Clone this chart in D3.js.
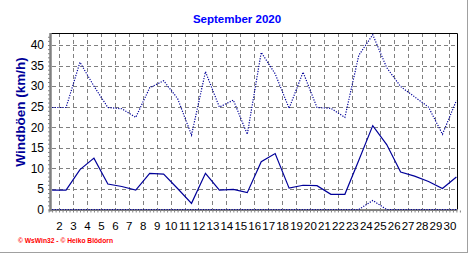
<!DOCTYPE html>
<html>
<head>
<meta charset="utf-8">
<script src="https://cdn.jsdelivr.net/npm/d3@7"></script>
<style>
  body { margin: 0; background: #fff; }
  svg { display: block; font-family: "Liberation Sans", Arial, sans-serif; }
</style>
</head>
<body>
<script>
// Days of September 2020
const days = [1, 2, 3, 4, 5, 6, 7, 8, 9, 10, 11, 12, 13, 14, 15,
  16, 17, 18, 19, 20, 21, 22, 23, 24, 25, 26, 27, 28, 29, 30];

// Mean wind (solid line), km/h
const windMean = [4.7, 4.7, 9.7, 12.5, 6.2, 5.6, 4.7, 8.8, 8.6, 5.1,
  1.5, 8.8, 4.7, 4.9, 4.1, 11.6, 13.6, 5.2, 5.9, 5.8,
  3.7, 3.7, 12.0, 20.4, 15.8, 9.1, 8.1, 6.8, 5.1, 7.9];

// Max gusts (dotted line), km/h
const windGust = [24.8, 24.8, 35.8, 30.0, 24.8, 24.5, 22.4, 29.6, 31.3, 27.0,
  18.1, 33.5, 24.9, 26.6, 18.3, 38.2, 33.0, 24.6, 33.4, 24.8,
  24.6, 22.4, 37.5, 42.5, 34.5, 29.9, 27.4, 24.9, 18.3, 26.5];

// Minimum (dotted line near zero), km/h
const windMin = [0, 0, 0, 0, 0, 0, 0, 0, 0, 0,
  0, 0, 0, 0, 0, 0, 0, 0, 0, 0,
  0, 0, 0, 2.2, 0, 0, 0, 0, 0, 0];

const yTicks = [0, 5, 10, 15, 20, 25, 30, 35, 40];
const xLabels = [2, 3, 4, 5, 6, 7, 8, 9, 10, 11, 12, 13, 14, 15, 16,
  17, 18, 19, 20, 21, 22, 23, 24, 25, 26, 27, 28, 29, 30];

const width = 472, height = 255;
const plot = { left: 51, right: 457, top: 33, bottom: 209.5 };
const lineColor = "#000099";

const svg = d3.select("body").append("svg")
  .attr("width", width)
  .attr("height", height);

// Scales
const x = d3.scaleLinear().domain([1, 30]).range([52.1, 456.4]);
const y = d3.scaleLinear().domain([0, 40]).range([209.5, 45]);

// Outer frame lines
svg.append("line")
  .attr("x1", 0).attr("x2", 468).attr("y1", 252.5).attr("y2", 252.5)
  .attr("stroke", "#a0a0a0");
svg.append("line")
  .attr("x1", 467.5).attr("x2", 467.5).attr("y1", 0).attr("y2", 253)
  .attr("stroke", "#a0a0a0");

// Title
svg.append("text")
  .attr("x", 237)
  .attr("y", 23)
  .attr("text-anchor", "middle")
  .style("font-size", "11.5px")
  .style("font-weight", "bold")
  .style("fill", "#0000ff")
  .text("September 2020");

// Y axis label
svg.append("text")
  .attr("transform", "translate(25,112) rotate(-90)")
  .attr("text-anchor", "middle")
  .style("font-size", "13.5px")
  .style("font-weight", "bold")
  .style("fill", "#000099")
  .text("Windböen (km/h)");

// Horizontal grid
svg.append("g")
  .selectAll("line")
  .data(yTicks.filter((d) => d > 0))
  .enter()
  .append("line")
  .attr("x1", plot.left + 1)
  .attr("x2", plot.right)
  .attr("y1", (d) => Math.round(y(d)) + 0.5)
  .attr("y2", (d) => Math.round(y(d)) + 0.5)
  .attr("stroke", "#808080")
  .attr("stroke-dasharray", "4,3");

// Vertical grid (day boundaries)
svg.append("g")
  .selectAll("line")
  .data(xLabels)
  .enter()
  .append("line")
  .attr("x1", (d) => Math.round(x(d - 0.5)) + 0.5)
  .attr("x2", (d) => Math.round(x(d - 0.5)) + 0.5)
  .attr("y1", plot.top)
  .attr("y2", plot.bottom)
  .attr("stroke", "#808080")
  .attr("stroke-dasharray", "4,3");

// Top and right border
svg.append("path")
  .attr("d", `M${plot.left},${plot.top + 0.5}H${plot.right + 0.5}V${plot.bottom}`)
  .attr("fill", "none")
  .attr("stroke", "#000");

// Left axis with minor ticks
const yAxis = d3.axisLeft(y)
  .tickValues(d3.range(0, 43, 1))
  .tickSize(2)
  .tickFormat("");
svg.append("g")
  .attr("transform", `translate(${plot.left - 1},0)`)
  .call(yAxis)
  .call((g) => g.select(".domain").remove())
  .call((g) => g.selectAll("line").attr("stroke", "#808080"));
svg.append("line")
  .attr("x1", plot.left - 0.5).attr("x2", plot.left - 0.5)
  .attr("y1", plot.top).attr("y2", plot.bottom + 2)
  .attr("stroke", "#808080").attr("stroke-width", 2.5);

// Bottom axis with minor ticks
const xAxis = d3.axisBottom(x)
  .tickValues(d3.range(0.75, 30.3, 0.25))
  .tickSize(2)
  .tickFormat("");
svg.append("g")
  .attr("transform", `translate(0,${plot.bottom + 1})`)
  .call(xAxis)
  .call((g) => g.select(".domain").remove())
  .call((g) => g.selectAll("line").attr("stroke", "#808080"));
svg.append("line")
  .attr("x1", plot.left - 1.5).attr("x2", plot.right + 0.5)
  .attr("y1", plot.bottom + 0.5).attr("y2", plot.bottom + 0.5)
  .attr("stroke", "#808080").attr("stroke-width", 2);

// Y tick labels
svg.append("g")
  .selectAll("text")
  .data(yTicks)
  .enter()
  .append("text")
  .attr("x", 44)
  .attr("y", (d) => y(d) + 4.3)
  .attr("text-anchor", "end")
  .style("font-size", "12px")
  .style("fill", "#000")
  .text((d) => d);

// X tick labels
svg.append("g")
  .selectAll("text")
  .data(xLabels)
  .enter()
  .append("text")
  .attr("x", (d) => x(d - 0.5) + 0.5)
  .attr("y", 229.5)
  .attr("text-anchor", "middle")
  .style("font-size", "11.5px")
  .style("fill", "#000")
  .text((d) => d);

// Series lines
const line = (values) =>
  d3.line()
    .x((d, i) => x(days[i]))
    .y((d) => y(d))(values);

svg.append("path")
  .attr("d", line(windMin))
  .attr("fill", "none")
  .attr("stroke", lineColor)
  .attr("stroke-width", 1.2)
  .attr("stroke-dasharray", "1.2,1.4");

svg.append("path")
  .attr("d", line(windGust))
  .attr("fill", "none")
  .attr("stroke", lineColor)
  .attr("stroke-width", 1.2)
  .attr("stroke-dasharray", "1.2,1.4");

svg.append("path")
  .attr("d", line(windMean))
  .attr("fill", "none")
  .attr("stroke", lineColor)
  .attr("stroke-width", 1.2);

// Footer credit
svg.append("text")
  .attr("x", 18)
  .attr("y", 243)
  .attr("textLength", 95)
  .attr("lengthAdjust", "spacingAndGlyphs")
  .style("font-size", "7px")
  .style("font-weight", "bold")
  .style("fill", "#ff0000")
  .text("© WsWin32 - © Heiko Blödorn");
</script>
</body>
</html>
